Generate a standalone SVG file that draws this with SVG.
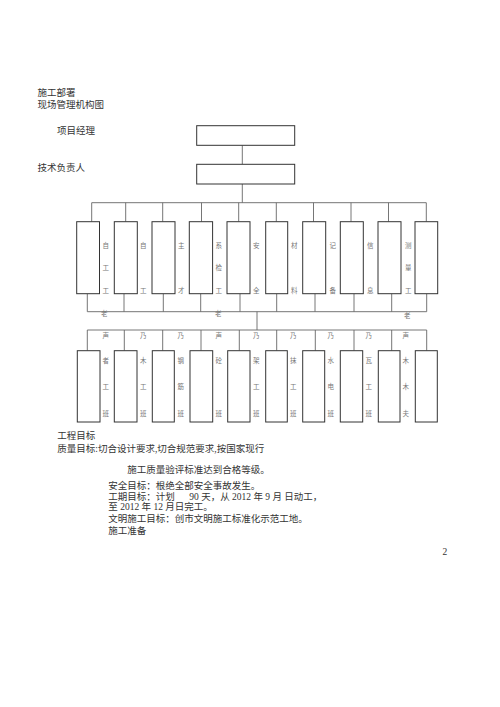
<svg xmlns="http://www.w3.org/2000/svg" width="500" height="707" viewBox="0 0 500 707">
<style>
.t{font-family:"Liberation Serif","Noto Sans CJK SC",serif;font-size:9.5px;fill:#333}
.s{font-family:"Liberation Serif","Noto Sans CJK SC",serif;font-size:6.5px;fill:#777}
.b{fill:#fff;stroke:#333;stroke-width:1}
.c{fill:none;stroke:#666;stroke-width:0.9}
</style>
<rect width="500" height="707" fill="#fff"/>
<g id="texts-top">
<text class="t" x="37.5" y="96">施工部署</text>
<text class="t" x="37.5" y="108">现场管理机构图</text>
<text class="t" x="57" y="133.5">项目经理</text>
<text class="t" x="37.5" y="170.5">技术负责人</text>
</g>
<g id="connectors">
<path class="c" d="M242.3 145.3V164.3M242.3 184V202.7M91.7 202.7H426.3"/>
<path class="c" d="M91.7 202.7V221.7M125.7 202.7V221.7M162.7 202.7V221.7M201.5 202.7V221.7M238.7 202.7V221.7M276.3 202.7V221.7M313.5 202.7V221.7M351 202.7V221.7M388.5 202.7V221.7M426.3 202.7V221.7"/>
<path class="c" d="M87.3 293.7V311.7M124 293.7V311.7M163.3 293.7V311.7M200.7 293.7V311.7M240 293.7V311.7M276.7 293.7V311.7M315 293.7V311.7M354 293.7V311.7M391.7 293.7V311.7M426.7 293.7V311.7M87.3 311.7H426.7"/>
<path class="c" d="M257 311.7V330M87.3 330H426.7"/>
<path class="c" d="M87.3 330V350.7M124.3 330V350.7M162.7 330V350.7M201 330V350.7M239.3 330V350.7M276.7 330V350.7M315.3 330V350.7M354 330V350.7M391.7 330V350.7M426.7 330V350.7"/>
</g>
<g id="pm"><rect class="b" x="196.7" y="125.7" width="98" height="19.6"/></g>
<g id="tech"><rect class="b" x="196.7" y="164.3" width="98" height="19.7"/></g>
<g id="row1">
<rect class="b" x="76.7" y="221.7" width="22.8" height="72"/>
<rect class="b" x="114.3" y="221.7" width="23" height="72"/>
<rect class="b" x="152" y="221.7" width="23" height="72"/>
<rect class="b" x="189.3" y="221.7" width="23.3" height="72"/>
<rect class="b" x="227" y="221.7" width="23" height="72"/>
<rect class="b" x="265.7" y="221.7" width="22" height="72"/>
<rect class="b" x="302.7" y="221.7" width="23" height="72"/>
<rect class="b" x="340.3" y="221.7" width="23" height="72"/>
<rect class="b" x="378" y="221.7" width="23" height="72"/>
<rect class="b" x="415" y="221.7" width="22.7" height="72"/>
</g>
<g id="row1-labels">
<text class="s" x="102.5" y="247.5">自</text><text class="s" x="102.5" y="270">工</text><text class="s" x="102.5" y="292.5">工</text>
<text class="s" x="140" y="247.5">自</text><text class="s" x="140" y="292.5">工</text>
<text class="s" x="178" y="247.5">主</text><text class="s" x="178" y="292.5">才</text>
<text class="s" x="215.5" y="247.5">系</text><text class="s" x="215.5" y="270">检</text><text class="s" x="215.5" y="292.5">工</text>
<text class="s" x="253" y="247.5">安</text><text class="s" x="253" y="292.5">全</text>
<text class="s" x="291" y="247.5">材</text><text class="s" x="291" y="292.5">料</text>
<text class="s" x="329.5" y="247.5">记</text><text class="s" x="329.5" y="292.5">备</text>
<text class="s" x="367" y="247.5">信</text><text class="s" x="367" y="292.5">息</text>
<text class="s" x="405" y="247.5">测</text><text class="s" x="405" y="270">量</text><text class="s" x="405" y="292.5">工</text>
<text class="s" x="101" y="315.5">老</text><text class="s" x="215" y="315.5">老</text><text class="s" x="404" y="317.5">老</text>
</g>
<g id="row2">
<rect class="b" x="77.3" y="350.7" width="22.7" height="71.3"/>
<rect class="b" x="114.3" y="350.7" width="22.7" height="71.3"/>
<rect class="b" x="152.3" y="350.7" width="22" height="71.3"/>
<rect class="b" x="190" y="350.7" width="22.7" height="71.3"/>
<rect class="b" x="227.7" y="350.7" width="22.3" height="71.3"/>
<rect class="b" x="265.7" y="350.7" width="21.6" height="71.3"/>
<rect class="b" x="302.7" y="350.7" width="22" height="71.3"/>
<rect class="b" x="340.3" y="350.7" width="22.4" height="71.3"/>
<rect class="b" x="378.3" y="350.7" width="21.7" height="71.3"/>
<rect class="b" x="415.3" y="350.7" width="22" height="71.3"/>
</g>
<g id="row2-labels">
<text class="s" x="102.5" y="337.5">声</text><text class="s" x="140" y="337.5">乃</text><text class="s" x="177.5" y="337.5">乃</text><text class="s" x="215.5" y="337.5">声</text><text class="s" x="253" y="337.5">乃</text><text class="s" x="290" y="337.5">乃</text><text class="s" x="327.5" y="337.5">乃</text><text class="s" x="365.5" y="337.5">乃</text><text class="s" x="402.5" y="337.5">声</text>
<text class="s" x="102.5" y="362.5">者</text><text class="s" x="102.5" y="389">工</text><text class="s" x="102.5" y="416">班</text>
<text class="s" x="140" y="362.5">木</text><text class="s" x="140" y="389">工</text><text class="s" x="140" y="416">班</text>
<text class="s" x="177.5" y="362.5">钢</text><text class="s" x="177.5" y="389">筋</text><text class="s" x="177.5" y="416">班</text>
<text class="s" x="215.5" y="362.5">砼</text><text class="s" x="215.5" y="416">班</text>
<text class="s" x="253" y="362.5">架</text><text class="s" x="253" y="389">工</text><text class="s" x="253" y="416">班</text>
<text class="s" x="290" y="362.5">抹</text><text class="s" x="290" y="389">工</text><text class="s" x="290" y="416">班</text>
<text class="s" x="327.5" y="362.5">水</text><text class="s" x="327.5" y="389">电</text><text class="s" x="327.5" y="416">班</text>
<text class="s" x="365.5" y="362.5">瓦</text><text class="s" x="365.5" y="389">工</text><text class="s" x="365.5" y="416">班</text>
<text class="s" x="402.5" y="362.5">木</text><text class="s" x="402.5" y="389">木</text><text class="s" x="402.5" y="416">夫</text>
</g>
<g id="texts-bottom">
<text class="t" x="57.3" y="438.5">工程目标</text>
<text class="t" x="57.3" y="451.8">质量目标:切合设计要求,切合规范要求,按国家现行</text>
<text class="t" x="127.3" y="472.8">施工质量验评标准达到合格等级。</text>
<text class="t" x="108.3" y="488.5">安全目标：根绝全部安全事故发生。</text>
<text class="t" x="108.3" y="499.5">工期目标：计划</text>
<text class="t" x="189.3" y="499.5">90 天，从 2012 年 9 月 日动工，</text>
<text class="t" x="108.3" y="510.2">至 2012 年 12 月日完工。</text>
<text class="t" x="108.3" y="521.8">文明施工目标：创市文明施工标准化示范工地。</text>
<text class="t" x="108.3" y="533.5">施工准备</text>
<text class="t" x="442.5" y="554.5">2</text>
</g>
</svg>
